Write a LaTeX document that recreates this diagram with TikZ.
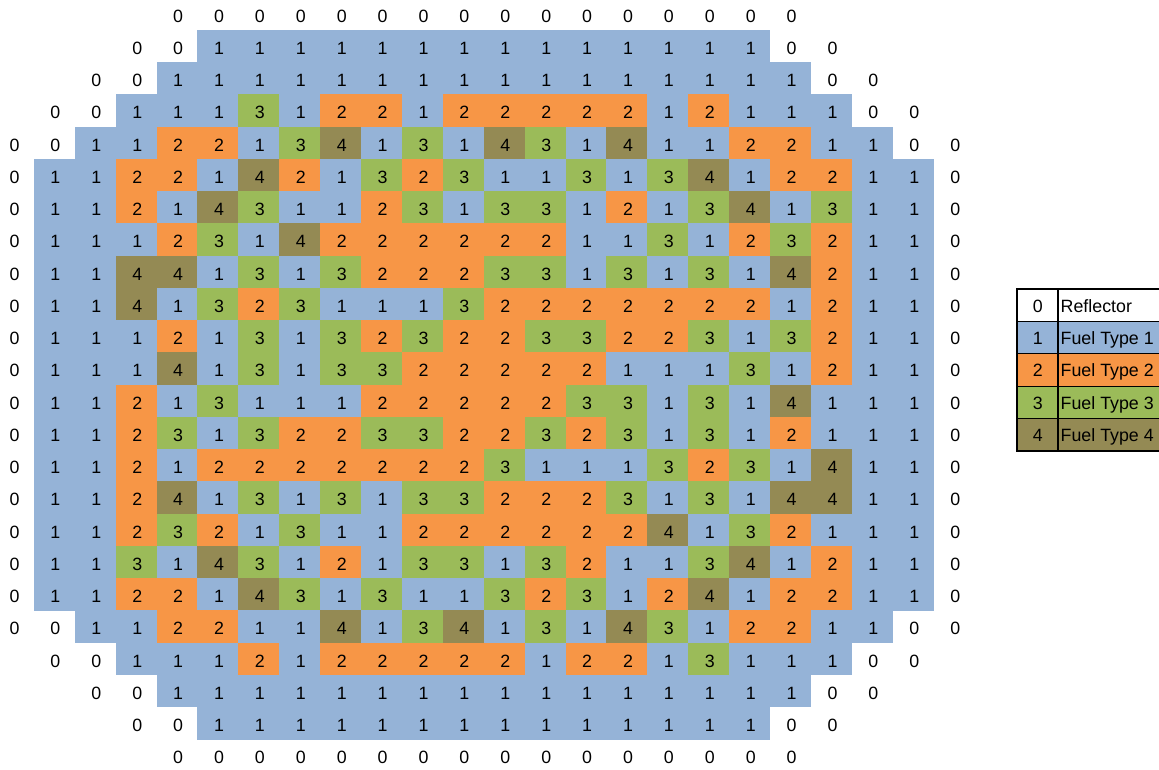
\documentclass[tikz,border=0pt]{standalone}
\usepackage{fontspec}
\setmainfont{Liberation Sans}
\definecolor{f1}{HTML}{95B3D7}
\definecolor{f2}{HTML}{F79646}
\definecolor{f3}{HTML}{9BBB59}
\definecolor{f4}{HTML}{948A54}
\tikzset{
  cellnum/.style={anchor=base, inner sep=0pt, font=\fontsize{17.8}{20}\selectfont},
  legnum/.style={anchor=base, inner sep=0pt, font=\fontsize{17.8}{20}\selectfont},
  legtxt/.style={anchor=base west, inner sep=0pt, font=\fontsize{17.8}{20}\selectfont},
  legline/.style={draw=black, line width=2pt},
  legthin/.style={draw=black, line width=0.8pt}
}
\begin{document}
\begin{tikzpicture}[x=1pt,y=-1pt]
\useasboundingbox (0,0) rectangle (1159,769);
\foreach \rowdata [count=\ri from 0] in {
 {-1,-1,-1,-1,0,0,0,0,0,0,0,0,0,0,0,0,0,0,0,0,-1,-1,-1,-1},
 {-1,-1,-1,0,0,1,1,1,1,1,1,1,1,1,1,1,1,1,1,0,0,-1,-1,-1},
 {-1,-1,0,0,1,1,1,1,1,1,1,1,1,1,1,1,1,1,1,1,0,0,-1,-1},
 {-1,0,0,1,1,1,3,1,2,2,1,2,2,2,2,2,1,2,1,1,1,0,0,-1},
 {0,0,1,1,2,2,1,3,4,1,3,1,4,3,1,4,1,1,2,2,1,1,0,0},
 {0,1,1,2,2,1,4,2,1,3,2,3,1,1,3,1,3,4,1,2,2,1,1,0},
 {0,1,1,2,1,4,3,1,1,2,3,1,3,3,1,2,1,3,4,1,3,1,1,0},
 {0,1,1,1,2,3,1,4,2,2,2,2,2,2,1,1,3,1,2,3,2,1,1,0},
 {0,1,1,4,4,1,3,1,3,2,2,2,3,3,1,3,1,3,1,4,2,1,1,0},
 {0,1,1,4,1,3,2,3,1,1,1,3,2,2,2,2,2,2,2,1,2,1,1,0},
 {0,1,1,1,2,1,3,1,3,2,3,2,2,3,3,2,2,3,1,3,2,1,1,0},
 {0,1,1,1,4,1,3,1,3,3,2,2,2,2,2,1,1,1,3,1,2,1,1,0},
 {0,1,1,2,1,3,1,1,1,2,2,2,2,2,3,3,1,3,1,4,1,1,1,0},
 {0,1,1,2,3,1,3,2,2,3,3,2,2,3,2,3,1,3,1,2,1,1,1,0},
 {0,1,1,2,1,2,2,2,2,2,2,2,3,1,1,1,3,2,3,1,4,1,1,0},
 {0,1,1,2,4,1,3,1,3,1,3,3,2,2,2,3,1,3,1,4,4,1,1,0},
 {0,1,1,2,3,2,1,3,1,1,2,2,2,2,2,2,4,1,3,2,1,1,1,0},
 {0,1,1,3,1,4,3,1,2,1,3,3,1,3,2,1,1,3,4,1,2,1,1,0},
 {0,1,1,2,2,1,4,3,1,3,1,1,3,2,3,1,2,4,1,2,2,1,1,0},
 {0,0,1,1,2,2,1,1,4,1,3,4,1,3,1,4,3,1,2,2,1,1,0,0},
 {-1,0,0,1,1,1,2,1,2,2,2,2,2,1,2,2,1,3,1,1,1,0,0,-1},
 {-1,-1,0,0,1,1,1,1,1,1,1,1,1,1,1,1,1,1,1,1,0,0,-1,-1},
 {-1,-1,-1,0,0,1,1,1,1,1,1,1,1,1,1,1,1,1,1,0,0,-1,-1,-1},
 {-1,-1,-1,-1,0,0,0,0,0,0,0,0,0,0,0,0,0,0,0,0,-1,-1,-1,-1}} {
  \foreach \v [count=\ci from 0] in \rowdata {
    \ifnum\v>-1
      \pgfmathsetmacro\xl{-6.9+\ci*40.9}
      \pgfmathsetmacro\yt{-2.3+\ri*32.25}
      \ifnum\v>0
        \fill[f\v] (\xl-0.2,\yt-0.2) rectangle ++(41.3,32.65);
      \fi
      \node[cellnum] (n-\ri-\ci) at (\xl+21.4,\yt+24.4) {\v};
    \fi
  }
}
% legend
\foreach \k/\lab [count=\li from 0] in {0/Reflector,1/Fuel Type 1,2/Fuel Type 2,3/Fuel Type 3,4/Fuel Type 4} {
  \pgfmathsetmacro\lt{289+\li*32.35}
  \ifnum\k>0
    \fill[f\k] (1016.7,\lt) rectangle (1175,\lt+32.35);
  \fi
  \node[legnum] (ln-\k) at (1037.7,\lt+23) {\k};
  \node[legtxt] (lt-\k) at (1060.5,\lt+23) {\lab};
}
\foreach \li in {1,2,3,4} {
  \draw[legthin] (1016.7,289+\li*32.35) -- (1175,289+\li*32.35);
}
\draw[legline] (1057.6,289) -- (1057.6,450.75);
\draw[legline] (1175,289) -- (1016.7,289) -- (1016.7,450.75) -- (1175,450.75);
\end{tikzpicture}
\end{document}
